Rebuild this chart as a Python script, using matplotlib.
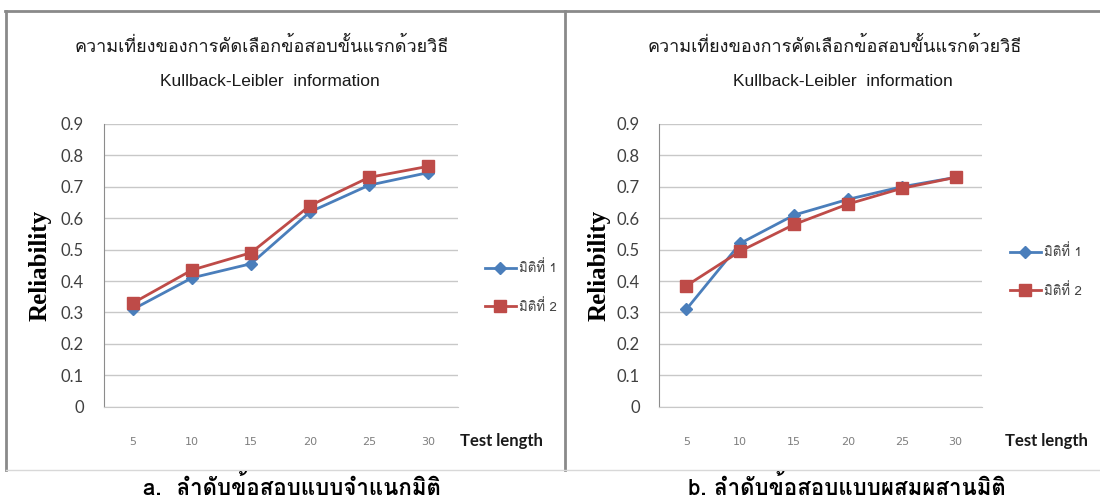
import matplotlib
matplotlib.use("Agg")
import matplotlib.pyplot as plt
from matplotlib.lines import Line2D

# data
test_length = [5, 10, 15, 20, 25, 30]
left_dim1 = [0.31, 0.41, 0.455, 0.62, 0.705, 0.745]
left_dim2 = [0.33, 0.435, 0.49, 0.64, 0.73, 0.765]
right_dim1 = [0.31, 0.52, 0.61, 0.66, 0.70, 0.73]
right_dim2 = [0.385, 0.495, 0.58, 0.645, 0.695, 0.73]
y_ticks = [0, 0.1, 0.2, 0.3, 0.4, 0.5, 0.6, 0.7, 0.8, 0.9]
y_ticklabels = ["0", "0.1", "0.2", "0.3", "0.4", "0.5", "0.6", "0.7", "0.8", "0.9"]
series_names = ["มิติที่ 1", "มิติที่ 2"]
title_th = "ความเที่ยงของการคัดเลือกข้อสอบขั้นแรกด้วยวิธี"
title_en = "Kullback-Leibler  information"
captions = ["a.  ลำดับข้อสอบแบบจำแนกมิติ", "b. ลำดับข้อสอบแบบผสมผสานมิติ"]

THAI = ["Loma", "Noto Sans Thai", "DejaVu Sans"]
BLUE = "#4a7ebb"
RED = "#be4b48"

W, H = 1100, 499
fig = plt.figure(figsize=(W / 100, H / 100), dpi=100)


def fx(px):
    return px / W


def fy(py):
    return 1 - py / H


def panel(left, right, d1, d2, cx, legend_xy, ylab_x, tl_x):
    ax = fig.add_axes([fx(left), fy(406.6), fx(right - left), fy(124) - fy(406.6)])
    ax.plot(test_length, d1, color=BLUE, lw=2.0, marker="D", ms=6,
            label=series_names[0], zorder=3)
    ax.plot(test_length, d2, color=RED, lw=2.0, marker="s", ms=8.5,
            label=series_names[1], zorder=3)
    ax.set_xlim(2.5, 32.5)
    ax.set_ylim(0, 0.9)
    ax.set_yticks(y_ticks)
    ax.set_yticklabels(y_ticklabels, family="Lato", fontsize=12, color="#404040")
    ax.set_xticks(test_length)
    ax.set_xticklabels([str(v) for v in test_length], family="Liberation Sans Narrow",
                       fontsize=8, color="#7f7f7f")
    ax.tick_params(axis="both", length=0)
    ax.tick_params(axis="y", pad=14)
    ax.tick_params(axis="x", pad=22)
    ax.grid(axis="y", color="#c8c8c8", lw=1.0)
    ax.set_axisbelow(True)
    for s in ["top", "right"]:
        ax.spines[s].set_visible(False)
    ax.spines["left"].set_color("#8c8c8c")
    ax.spines["bottom"].set_color("#c8c8c8")

    fig.text(fx(cx), fy(46), title_th, family=THAI, fontsize=13,
             ha="center", va="center", color="#1a1a1a")
    fig.text(fx(cx + 8), fy(82), title_en, family="Liberation Sans", fontsize=12.5,
             ha="center", va="center", color="#1a1a1a")
    fig.text(fx(ylab_x), fy(265), "Reliability", family="Liberation Serif",
             fontweight="bold", fontsize=18, rotation=90, ha="center", va="center")
    fig.text(fx(tl_x), fy(441), "Test length", family="Lato", fontweight="bold",
             fontsize=12, ha="left", va="center", color="#1a1a1a")
    ax.legend(loc="center left", bbox_to_anchor=(fx(legend_xy[0]), fy(legend_xy[1])),
              bbox_transform=fig.transFigure, frameon=False,
              prop={"family": THAI, "size": 9.5}, handlelength=2.4,
              handletextpad=0.2, labelspacing=1.8, borderpad=0, labelcolor="#404040")
    return ax


panel(103.5, 457.5, left_dim1, left_dim2, 262, (478, 287), 40, 460)
panel(659.5, 982.5, right_dim1, right_dim2, 835, (1003, 271), 599, 1005)

# panel frames
frame = dict(transform=fig.transFigure, color="#8a8a8a", lw=2.0)
fig.add_artist(Line2D([fx(5), fx(1100)], [fy(11), fy(11)], **frame))
fig.add_artist(Line2D([fx(6), fx(6)], [fy(11), fy(470)], **frame))
fig.add_artist(Line2D([fx(565), fx(565)], [fy(11), fy(470)], **frame))
fig.add_artist(Line2D([fx(6), fx(1100)], [fy(470), fy(470)],
                      transform=fig.transFigure, color="#d8d8d8", lw=1.0))

fig.text(fx(292), fy(487), captions[0], family=THAI, fontweight="bold",
         fontsize=16, ha="center", va="center")
fig.text(fx(847), fy(487), captions[1], family=THAI, fontweight="bold",
         fontsize=16, ha="center", va="center")

fig.savefig("out.png", dpi=100)
